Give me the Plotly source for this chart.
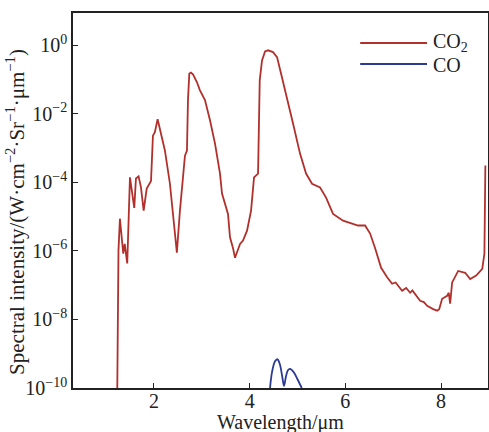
import plotly.graph_objects as go

# CO2 spectrum (wavelength in um, spectral intensity in W/(cm^2 Sr um))
co2_wavelength = [1.235, 1.26, 1.29, 1.36, 1.39, 1.415, 1.443, 1.50, 1.59, 1.625,
                  1.68, 1.73, 1.786, 1.85, 1.94, 1.98, 2.02, 2.078, 2.126, 2.23,
                  2.335, 2.42, 2.48, 2.544, 2.607, 2.649, 2.691, 2.712, 2.74, 2.775,
                  2.82, 2.90, 2.96, 3.067, 3.172, 3.277, 3.381, 3.423, 3.548, 3.59,
                  3.653, 3.695, 3.80, 3.862, 3.946, 4.03, 4.092, 4.134, 4.176, 4.211,
                  4.259, 4.322, 4.385, 4.489, 4.573, 4.656, 4.782, 4.907, 5.053, 5.179,
                  5.304, 5.471, 5.597, 5.743, 5.952, 6.099, 6.266, 6.412, 6.517, 6.622,
                  6.747, 6.873, 6.977, 7.05, 7.103, 7.186, 7.27, 7.354, 7.40, 7.458,
                  7.562, 7.64, 7.709, 7.834, 7.918, 7.96, 8.022, 8.127, 8.16, 8.189,
                  8.231, 8.357, 8.503, 8.608, 8.733, 8.86, 8.905, 8.925]
co2_intensity = [1e-10, 1e-6, 8.7e-6, 8.3e-7, 1.6e-6, 8.3e-7, 4.3e-7, 1.4e-4, 1.8e-5, 1.3e-4,
                 1.5e-4, 7.1e-5, 1.5e-5, 6.6e-5, 1.1e-4, 2.3e-3, 2.9e-3, 6.9e-3, 3.7e-3, 8.5e-4,
                 9.1e-5, 6.3e-6, 8.9e-7, 1.5e-5, 1.4e-4, 6.0e-4, 8.5e-4, 2.5e-2, 0.15, 0.16,
                 0.14, 0.083, 0.049, 0.025, 6.5e-3, 1.35e-3, 1.8e-4, 4.7e-5, 1.2e-5, 2.5e-6,
                 1.2e-6, 6.3e-7, 1.6e-6, 2.0e-6, 3.9e-6, 1.5e-5, 1.4e-4, 1.6e-4, 1.8e-4, 0.095,
                 0.36, 0.66, 0.71, 0.63, 0.45, 0.15, 0.030, 5.2e-3, 6.9e-4, 1.8e-4,
                 9.1e-5, 7.1e-5, 3.6e-5, 1.2e-5, 7.6e-6, 6.6e-6, 5.5e-6, 5.5e-6, 3.2e-6, 1.2e-6,
                 3.2e-7, 1.7e-7, 1.1e-7, 1.2e-7, 9.5e-8, 6.9e-8, 8.3e-8, 6.0e-8, 7.0e-8, 5.6e-8,
                 3.5e-8, 3.2e-8, 2.5e-8, 2.0e-8, 1.8e-8, 2.0e-8, 4.0e-8, 4.9e-8, 6.0e-8, 2.9e-8,
                 1.2e-7, 2.6e-7, 2.3e-7, 1.5e-7, 1.9e-7, 3.0e-7, 8.3e-7, 3.1e-4]

# CO spectrum
co_wavelength = [4.426, 4.47, 4.53, 4.579, 4.63, 4.68, 4.719, 4.76, 4.80, 4.844, 4.92, 5.0, 5.089]
co_intensity = [1e-10, 3.0e-10, 6.0e-10, 6.9e-10, 5.0e-10, 2.2e-10, 1.15e-10, 2.2e-10, 3.3e-10, 3.6e-10, 2.9e-10, 1.8e-10, 1e-10]

x_ticks = [2, 4, 6, 8]
y_tick_vals = [1e0, 1e-2, 1e-4, 1e-6, 1e-8, 1e-10]
y_tick_text = ["10<sup>0</sup>", "10<sup>−2</sup>", "10<sup>−4</sup>", "10<sup>−6</sup>",
               "10<sup>−8</sup>", "10<sup>−10</sup>"]

red = "#b1302c"
blue = "#2b3a94"
font_family = "Liberation Serif, Times New Roman, serif"

fig = go.Figure()
fig.add_trace(go.Scatter(x=co2_wavelength, y=co2_intensity, mode="lines",
                         line=dict(color=red, width=1.8), name="CO2", showlegend=False))
fig.add_trace(go.Scatter(x=co_wavelength, y=co_intensity, mode="lines",
                         line=dict(color=blue, width=1.8, shape="spline"), name="CO",
                         showlegend=False))

# manual legend
fig.add_shape(type="line", xref="paper", yref="paper", x0=0.692, x1=0.853, y0=0.92, y1=0.92,
              line=dict(color=red, width=2))
fig.add_shape(type="line", xref="paper", yref="paper", x0=0.692, x1=0.853, y0=0.864, y1=0.864,
              line=dict(color=blue, width=2))
fig.add_annotation(xref="paper", yref="paper", x=0.862, y=0.922, text="CO<sub>2</sub>",
                   showarrow=False, xanchor="left", yanchor="middle",
                   font=dict(family=font_family, size=20, color="#222"))
fig.add_annotation(xref="paper", yref="paper", x=0.862, y=0.862, text="CO",
                   showarrow=False, xanchor="left", yanchor="middle",
                   font=dict(family=font_family, size=20, color="#222"))
# axis titles
fig.add_annotation(xref="paper", yref="paper", x=0.501, y=-0.093, text="Wavelength/μm",
                   showarrow=False, xanchor="center", yanchor="middle",
                   font=dict(family=font_family, size=20, color="#222"))
fig.add_annotation(xref="paper", yref="paper", x=-0.137, y=0.47, textangle=-90,
                   text="Spectral intensity/(W·cm<sup>−2</sup>·Sr<sup>−1</sup>·μm<sup>−1</sup>)",
                   showarrow=False, xanchor="center", yanchor="middle",
                   font=dict(family=font_family, size=21, color="#222"))

fig.update_layout(
    width=489, height=432,
    margin=dict(l=73, r=1, t=13, b=44, autoexpand=False),
    paper_bgcolor="white", plot_bgcolor="white",
    font=dict(family=font_family, size=20, color="#222"),
    xaxis=dict(range=[0.31, 8.98], tickvals=x_ticks, ticks="inside", ticklen=5,
               tickcolor="#222", showgrid=False, zeroline=False, showline=True,
               linecolor="#222", linewidth=1.5, mirror=True, automargin=False,
               tickfont=dict(size=20), ticklabelstandoff=-6),
    yaxis=dict(type="log", range=[-10.0, 0.94], tickvals=y_tick_vals, ticktext=y_tick_text,
               ticks="inside", ticklen=5, tickcolor="#222", showgrid=False, zeroline=False,
               showline=True, linecolor="#222", linewidth=1.5, mirror=True, automargin=False,
               tickfont=dict(size=20)),
)

fig.write_html("out.html", config={"displayModeBar": False},
               post_script="document.body.style.margin='0';document.body.style.overflow='hidden';")
